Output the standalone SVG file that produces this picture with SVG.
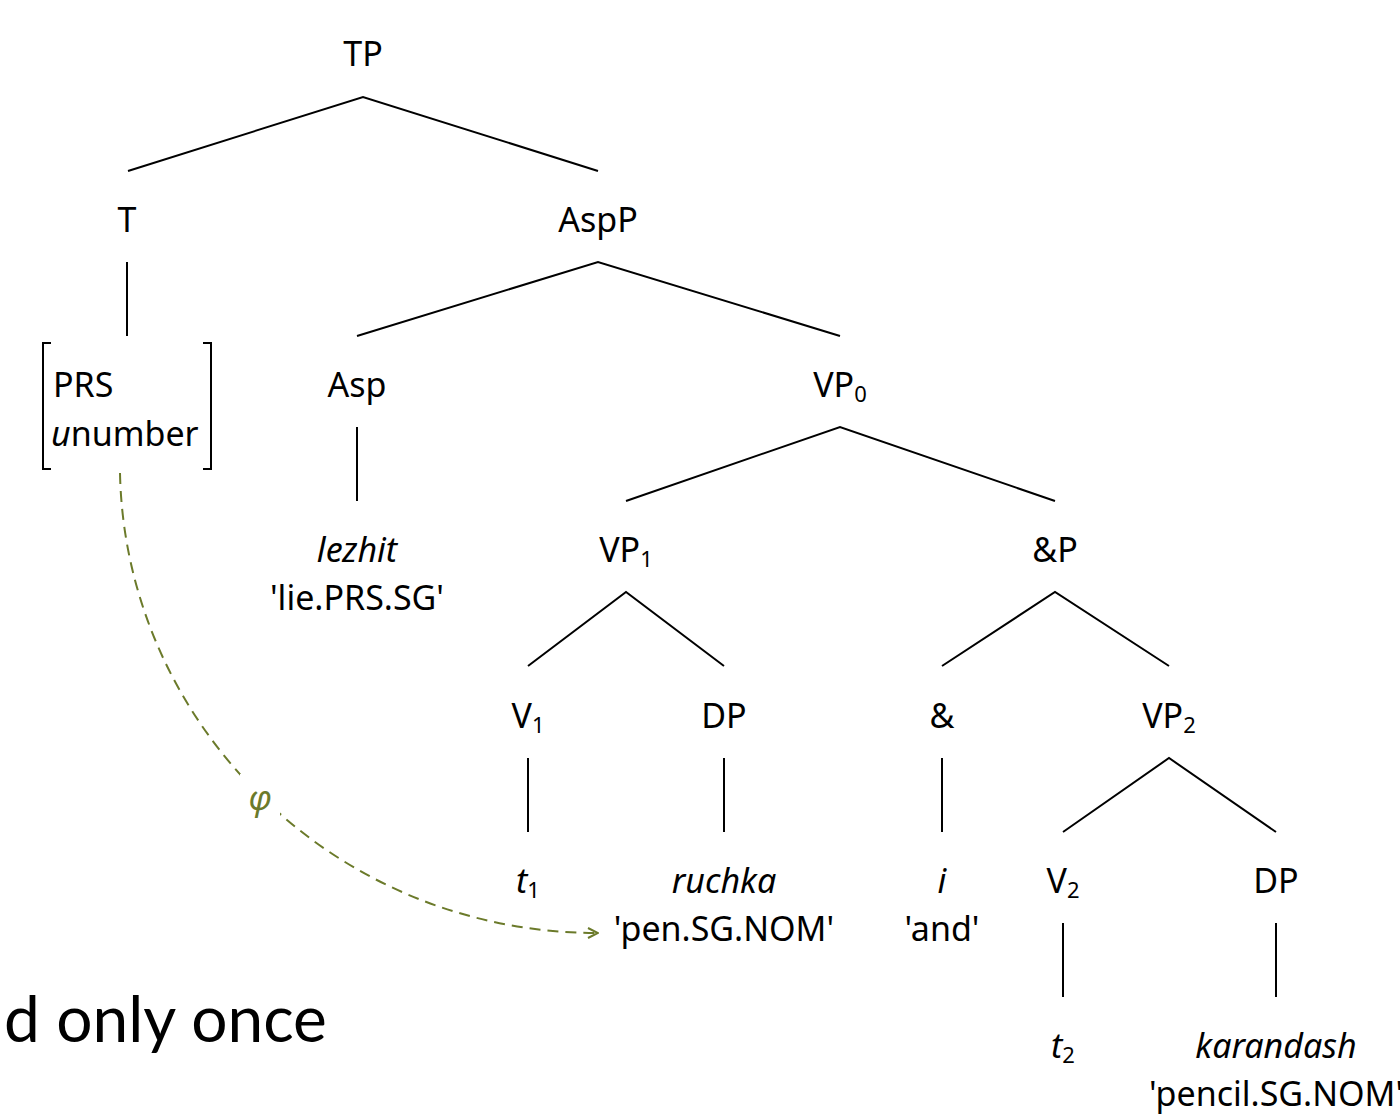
<svg xmlns="http://www.w3.org/2000/svg" width="1400" height="1115" viewBox="0 0 1400 1115">
  <defs>
    <style>
      .lbl { font-family: "Noto Sans", "Open Sans", sans-serif; font-size: 34px; fill: #000; text-anchor: middle; }
      .it { font-style: italic; }
      .sub { font-size: 22px; }
      .edge { stroke: #000; stroke-width: 2; fill: none; }
      .agree { stroke: #6b7a2a; stroke-width: 2; fill: none; stroke-dasharray: 11 7; }
    </style>
    <marker id="chev" viewBox="0 0 12 12" refX="11" refY="6" markerWidth="12" markerHeight="12" markerUnits="userSpaceOnUse" orient="auto">
      <path d="M1,1 L11,6 L1,11" fill="none" stroke="#6b7a2a" stroke-width="2"/>
    </marker>
  </defs>
  <rect width="1400" height="1115" fill="#fff"/>

  <!-- tree branches -->
  <g id="edges">
    <path class="edge" d="M128,171 L363,97 L598,171"/>
    <path class="edge" d="M127,262 L127,336"/>
    <path class="edge" d="M357,336 L598,262 L840,336"/>
    <path class="edge" d="M357,427 L357,501"/>
    <path class="edge" d="M626,501 L840,427 L1055,501"/>
    <path class="edge" d="M528,666 L626,592 L724,666"/>
    <path class="edge" d="M942,666 L1055,592 L1169,666"/>
    <path class="edge" d="M528,758 L528,832"/>
    <path class="edge" d="M724,758 L724,832"/>
    <path class="edge" d="M942,758 L942,832"/>
    <path class="edge" d="M1063,832 L1169,758 L1276,832"/>
    <path class="edge" d="M1063,923 L1063,997"/>
    <path class="edge" d="M1276,923 L1276,997"/>
    <!-- feature-valuation arrow -->
    <path class="agree" d="M120,473 C125,720 330,933 598,933" marker-end="url(#chev)"/>
    <rect x="240" y="774" width="40" height="50" fill="#fff"/>
  </g>

  <g id="TP"><text class="lbl" x="363" y="66">TP</text></g>
  <g id="T"><text class="lbl" x="127" y="232">T</text></g>
  <g id="AspP"><text class="lbl" x="598" y="232">AspP</text></g>

  <g id="features">
    <path class="edge" d="M51,343 L43,343 L43,469 L51,469"/>
    <path class="edge" d="M203,343 L211,343 L211,469 L203,469"/>
    <text class="lbl" x="53" y="397" style="text-anchor:start">PRS</text>
    <text class="lbl" x="51" y="446" style="text-anchor:start"><tspan class="it">u</tspan>number</text>
  </g>

  <g id="Asp"><text class="lbl" x="357" y="397">Asp</text></g>
  <g id="VP0"><text class="lbl" x="840" y="397">VP<tspan class="sub" dy="5">0</tspan></text></g>
  <g id="lezhit">
    <text class="lbl it" x="357" y="562">lezhit</text>
    <text class="lbl" x="357" y="610">'lie.PRS.SG'</text>
  </g>
  <g id="VP1"><text class="lbl" x="626" y="562">VP<tspan class="sub" dy="5">1</tspan></text></g>
  <g id="andP"><text class="lbl" x="1055" y="562">&amp;P</text></g>
  <g id="V1"><text class="lbl" x="528" y="728">V<tspan class="sub" dy="5">1</tspan></text></g>
  <g id="DP1"><text class="lbl" x="724" y="728">DP</text></g>
  <g id="and"><text class="lbl" x="942" y="728">&amp;</text></g>
  <g id="VP2"><text class="lbl" x="1169" y="728">VP<tspan class="sub" dy="5">2</tspan></text></g>
  <g id="t1"><text class="lbl" x="528" y="893"><tspan class="it">t</tspan><tspan class="sub" dy="5">1</tspan></text></g>
  <g id="ruchka">
    <text class="lbl it" x="724" y="893">ruchka</text>
    <text class="lbl" x="724" y="941">'pen.SG.NOM'</text>
  </g>
  <g id="i">
    <text class="lbl it" x="942" y="893">i</text>
    <text class="lbl" x="942" y="941">'and'</text>
  </g>
  <g id="V2"><text class="lbl" x="1063" y="893">V<tspan class="sub" dy="5">2</tspan></text></g>
  <g id="DP2"><text class="lbl" x="1276" y="893">DP</text></g>
  <g id="t2"><text class="lbl" x="1063" y="1058"><tspan class="it">t</tspan><tspan class="sub" dy="5">2</tspan></text></g>
  <g id="karandash">
    <text class="lbl it" x="1276" y="1058">karandash</text>
    <text class="lbl" x="1276" y="1106">'pencil.SG.NOM'</text>
  </g>

  <g id="phi"><text class="lbl it" x="260" y="810" style="fill:#6b7a2a">φ</text></g>

  <g id="caption"><text x="4" y="1042" style="font-family:Lato, 'Open Sans', sans-serif; font-size:64px; fill:#000">d only once</text></g>
</svg>
